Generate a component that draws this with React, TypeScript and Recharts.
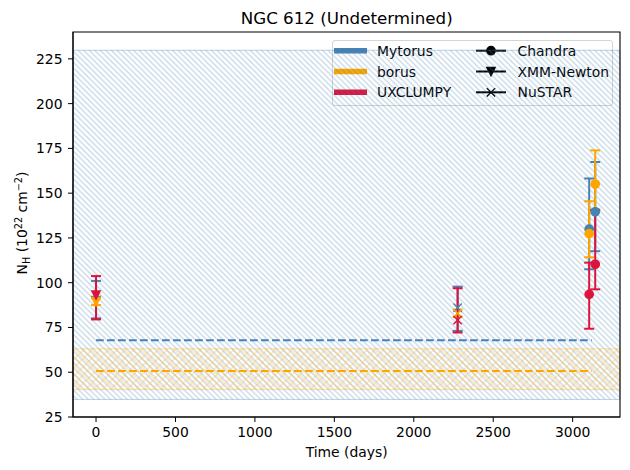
import {
  ComposedChart,
  ErrorBar,
  Label,
  ReferenceArea,
  ReferenceLine,
  Scatter,
  XAxis,
  YAxis,
} from "recharts";

const MODELS = ["Mytorus", "borus", "UXCLUMPY"];
const MODEL_COLORS = ["#4682b4", "#ffa500", "#dc143c"];
const INSTRUMENTS = ["Chandra", "XMM-Newton", "NuSTAR"];

// epochs (days since first obs) and which telescope took them
const OBS_DAYS = [3104, 3142, 0, 2276];
const OBS_INSTRUMENT = ["Chandra", "Chandra", "XMM-Newton", "NuSTAR"];

// N_H best fit + lower / upper bound, 10^22 cm^-2, same order as OBS_DAYS
const MYTORUS_NH = [129.9, 139.6, 90.0, 86.0];
const MYTORUS_LO = [107.5, 117.6, 80.1, 73.1];
const MYTORUS_HI = [158.2, 167.4, 101.0, 97.8];

const BORUS_NH = [127.4, 155.1, 89.4, 82.9];
const BORUS_LO = [114.2, 141.0, 87.5, 80.9];
const BORUS_HI = [145.5, 173.9, 91.3, 85.0];

const UXCLUMPY_NH = [93.5, 110.3, 93.1, 79.1];
const UXCLUMPY_LO = [74.3, 96.3, 79.5, 72.2];
const UXCLUMPY_HI = [111.2, 140.5, 103.7, 96.9];

// average line-of-sight N_H (dashed) and its allowed band, Mytorus / borus
const AVG_NH = [67.9, 50.7];
const AVG_DAYS = [0, 3120];
const BAND_LO = [34.8, 40.3];
const BAND_HI = [229.8, 63.1];

const X_TICKS = [0, 500, 1000, 1500, 2000, 2500, 3000];
const Y_TICKS = [25, 50, 75, 100, 125, 150, 175, 200, 225];
const X_DOMAIN = [-145, 3298];
const Y_DOMAIN = [25, 240];

const FONT = "'DejaVu Sans', sans-serif";

function buildRows(nh: number[], lo: number[], hi: number[]) {
  return OBS_DAYS.map((x, i) => ({
    x,
    y: nh[i],
    err: [nh[i] - lo[i], hi[i] - nh[i]],
    inst: OBS_INSTRUMENT[i],
  }));
}

const SERIES = [
  buildRows(MYTORUS_NH, MYTORUS_LO, MYTORUS_HI),
  buildRows(BORUS_NH, BORUS_LO, BORUS_HI),
  buildRows(UXCLUMPY_NH, UXCLUMPY_LO, UXCLUMPY_HI),
];

const R = 4.17;

function MarkerGlyph({
  cx,
  cy,
  inst,
  color,
}: {
  cx: number;
  cy: number;
  inst: string;
  color: string;
}) {
  if (inst === "Chandra") {
    return <circle cx={cx} cy={cy} r={R} fill={color} stroke={color} strokeWidth={1.4} />;
  }
  if (inst === "XMM-Newton") {
    return (
      <path
        d={`M${cx - R},${cy - R} L${cx + R},${cy - R} L${cx},${cy + R} Z`}
        fill={color}
        stroke={color}
        strokeWidth={1.4}
        strokeLinejoin="miter"
      />
    );
  }
  return (
    <path
      d={`M${cx - R},${cy - R} L${cx + R},${cy + R} M${cx - R},${cy + R} L${cx + R},${cy - R}`}
      stroke={color}
      strokeWidth={1.4}
      fill="none"
    />
  );
}

// legend box, top-right of the axes, drawn into the chart svg
function legendBox() {
  const x0 = 332;
  const y0 = 40;
  const row = (i: number) => y0 + 10.7 + i * 20.8;
  return (
    <g>
      <rect
        x={x0 + 0.5}
        y={y0 + 0.5}
        width={280}
        height={65}
        rx={2.5}
        fill="#fff"
        fillOpacity={0.8}
        stroke="#d4d4d4"
        strokeWidth={1}
      />
      {MODELS.map((m, i) => (
        <g key={m}>
          <line x1={x0 + 2} x2={x0 + 35} y1={row(i)} y2={row(i)} stroke={MODEL_COLORS[i]} strokeWidth={5.5} />
          <text x={x0 + 45} y={row(i) + 5} fontFamily={FONT} fontSize={13.9} fill="#000">
            {m}
          </text>
        </g>
      ))}
      {INSTRUMENTS.map((m, i) => (
        <g key={m}>
          <line x1={x0 + 144} x2={x0 + 174} y1={row(i)} y2={row(i)} stroke="#000" strokeWidth={2} />
          <MarkerGlyph cx={x0 + 159} cy={row(i)} inst={m} color="#000" />
          <text x={x0 + 185.5} y={row(i) + 5} fontFamily={FONT} fontSize={13.9} fill="#000">
            {m}
          </text>
        </g>
      ))}
    </g>
  );
}

export default function App() {
  return (
    <div style={{ position: "absolute", left: 0, top: 0, width: 630, height: 470, background: "#fff" }}>
      <ComposedChart
        width={630}
        height={470}
        margin={{ top: 32, right: 10, bottom: 0, left: 0 }}
      >
        <defs>
          <pattern id="hatchBlue" patternUnits="userSpaceOnUse" width={5.556} height={5.556}>
            <path
              d="M-1,-1 L6.556,6.556 M-1,4.556 L1,6.556 M4.556,-1 L6.556,1"
              stroke="#4682b4"
              strokeOpacity={0.33}
              strokeWidth={1.2}
            />
          </pattern>
          <pattern id="hatchOrange" patternUnits="userSpaceOnUse" width={8.333} height={8.333}>
            <path
              d="M-1,-1 L9.333,9.333 M-1,7.333 L1,9.333 M7.333,-1 L9.333,1 M-1,9.333 L9.333,-1 M-1,1 L1,-1 M7.333,9.333 L9.333,7.333"
              stroke="#ffa500"
              strokeOpacity={0.32}
              strokeWidth={1.2}
            />
          </pattern>
        </defs>
        <text x={346.7} y={24} textAnchor="middle" fontFamily={FONT} fontSize={16.7} fill="#000">
          NGC 612 (Undetermined)
        </text>
        <XAxis
          type="number"
          dataKey="x"
          domain={X_DOMAIN}
          ticks={X_TICKS}
          allowDataOverflow
          height={53}
          tickSize={5}
          tickMargin={5}
          stroke="#000"
          tick={{ fill: "#000", fontSize: 13.9, fontFamily: FONT }}
          label={
            <Label
              content={() => (
                <text x={346.7} y={457} textAnchor="middle" fontFamily={FONT} fontSize={13.9} fill="#000">
                  Time (days)
                </text>
              )}
            />
          }
        />
        <YAxis
          type="number"
          domain={Y_DOMAIN}
          ticks={Y_TICKS}
          allowDataOverflow
          width={73}
          tickSize={5}
          tickMargin={5.5}
          stroke="#000"
          tick={{ fill: "#000", fontSize: 13.9, fontFamily: FONT }}
          label={
            <Label
              content={() => (
                <text
                  transform="rotate(-90)"
                  x={-223}
                  y={27.3}
                  textAnchor="middle"
                  fontFamily={FONT}
                  fontSize={13.9}
                  fill="#000"
                >
                  N
                  <tspan fontSize={9.7} dy={2.6}>H</tspan>
                  <tspan dy={-2.6}> (10</tspan>
                  <tspan fontSize={9.7} dy={-5.5}>22</tspan>
                  <tspan dy={5.5}> cm</tspan>
                  <tspan fontSize={9.7} dy={-5.5}>−2</tspan>
                  <tspan dy={5.5}>)</tspan>
                </text>
              )}
            />
          }
        />
        {BAND_LO.map((lo, i) => (
          <ReferenceArea
            key={`band-${i}`}
            x1={X_DOMAIN[0]}
            x2={X_DOMAIN[1]}
            y1={lo}
            y2={BAND_HI[i]}
            fill={i === 0 ? "url(#hatchBlue)" : "url(#hatchOrange)"}
            fillOpacity={1}
            stroke={MODEL_COLORS[i]}
            strokeOpacity={0.35}
            strokeWidth={1}
          />
        ))}
        {AVG_NH.map((v, i) => (
          <ReferenceLine
            key={`avg-${i}`}
            segment={[
              { x: AVG_DAYS[0], y: v },
              { x: AVG_DAYS[1], y: v },
            ]}
            stroke={MODEL_COLORS[i]}
            strokeWidth={2.08}
            strokeDasharray="7.7 3.3"
          />
        ))}
        {SERIES.map((rows, i) => (
          <Scatter
            key={`err-${MODELS[i]}`}
            data={rows}
            dataKey="y"
            isAnimationActive={false}
            legendType="none"
            shape={() => <g />}
          >
            <ErrorBar
              dataKey="err"
              direction="y"
              width={5}
              stroke={MODEL_COLORS[i]}
              strokeWidth={2}
              isAnimationActive={false}
            />
          </Scatter>
        ))}
        {SERIES.map((rows, i) => (
          <Scatter
            key={`pts-${MODELS[i]}`}
            data={rows}
            dataKey="y"
            isAnimationActive={false}
            legendType="none"
            shape={(p: any) => (
              <MarkerGlyph cx={p.cx} cy={p.cy} inst={p.payload.inst} color={MODEL_COLORS[i]} />
            )}
          />
        ))}
        <ReferenceArea
          x1={X_DOMAIN[0]}
          x2={X_DOMAIN[1]}
          y1={Y_DOMAIN[0]}
          y2={Y_DOMAIN[1]}
          fill="none"
          stroke="#000"
          strokeWidth={1.1}
        />
        {legendBox()}
      </ComposedChart>
    </div>
  );
}
